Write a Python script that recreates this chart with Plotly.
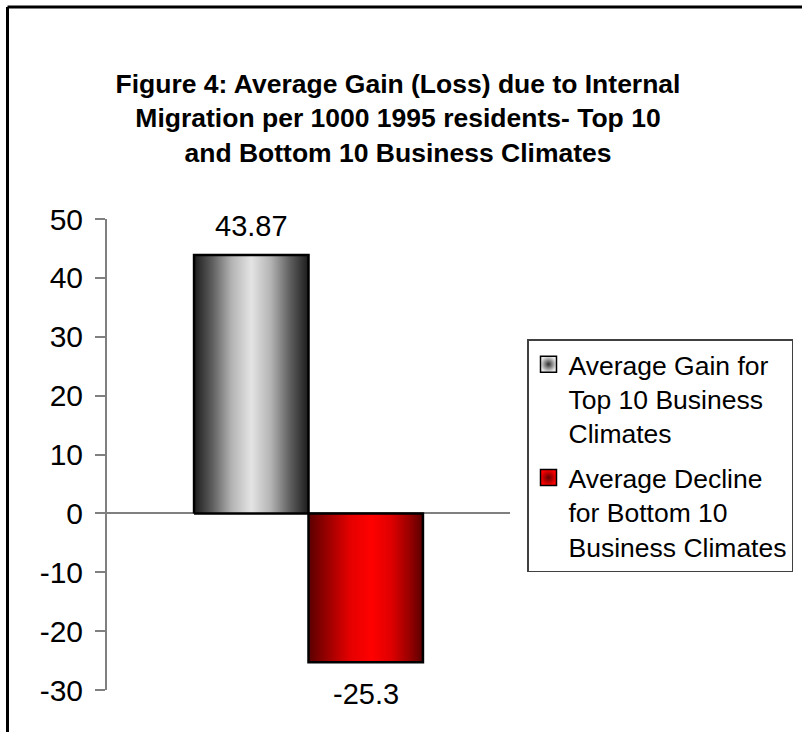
import plotly.graph_objects as go

# Series shown in the chart
series_names = [
    "Average Gain for<br>Top 10 Business<br>Climates",
    "Average Decline<br>for Bottom 10<br>Business Climates",
]
series_values = [43.87, -25.3]
value_labels = ["43.87", "-25.3"]

y_ticks = [-30, -20, -10, 0, 10, 20, 30, 40, 50]
y_tick_text = ["-30", "-20", "-10", "0", "10", "20", "30", "40", "50"]

title_text = ("<b>Figure 4: Average Gain (Loss) due to Internal<br>"
              "Migration per 1000 1995 residents- Top 10<br>"
              "and Bottom 10 Business Climates</b>")

# Cylinder-like horizontal shading for each bar
gradients = [
    [[0.0, "#1c1c1c"], [0.16, "#5e5e5e"], [0.33, "#b4b4b4"], [0.5, "#e4e4e4"],
     [0.67, "#b4b4b4"], [0.84, "#5e5e5e"], [1.0, "#1c1c1c"]],
    [[0.0, "#5a0000"], [0.18, "#a00000"], [0.36, "#e40000"], [0.55, "#ff0000"],
     [0.72, "#e00000"], [0.88, "#9a0000"], [1.0, "#5a0000"]],
]
# Legend swatch shading: centre colour -> edge colour
swatch_colors = [("#e8e8e8", "#303030"), ("#ff0000", "#600000")]

W, H = 802, 732
ML, MR, MT, MB = 107, 292, 219, 42
FONT = "Liberation Sans, Arial, sans-serif"

bar_gap = 0.432
bar_w = (1 - bar_gap) / len(series_values)
group_left = -(1 - bar_gap) / 2

fig = go.Figure()
for i, (name, val) in enumerate(zip(series_names, series_values)):
    x0 = group_left + i * bar_w
    x1 = x0 + bar_w
    fig.add_trace(go.Scatter(
        x=[x0, x1, x1, x0, x0],
        y=[0, 0, val, val, 0],
        mode="lines",
        fill="toself",
        fillgradient=dict(type="horizontal", colorscale=gradients[i]),
        line=dict(color="black", width=2.5),
        name=name,
        showlegend=False,
        hoverinfo="skip",
    ))
    # legend entry with a small shaded square swatch
    fig.add_trace(go.Scatter(
        x=[None], y=[None], mode="markers", name=name,
        legendgroup=f"g{i}",
        marker=dict(symbol="square", size=16, color=swatch_colors[i][0],
                    gradient=dict(type="radial", color=swatch_colors[i][1]),
                    line=dict(color="black", width=1.5)),
    ))
    fig.add_annotation(
        x=(x0 + x1) / 2, y=val, text=value_labels[i], showarrow=False,
        yshift=29 if val >= 0 else -32,
        font=dict(family=FONT, size=29, color="black"),
    )


def px_x(p):
    return (p - ML) / (W - ML - MR)


def px_y(p):
    return 1 - (p - MT) / (H - MT - MB)


# Frame lines along the left and top edges
fig.add_shape(type="line", xref="paper", yref="paper",
              x0=px_x(7.5), x1=px_x(W + 5), y0=px_y(7), y1=px_y(7),
              line=dict(color="black", width=3))
fig.add_shape(type="line", xref="paper", yref="paper",
              x0=px_x(7.5), x1=px_x(7.5), y0=px_y(7), y1=px_y(H + 5),
              line=dict(color="black", width=3))

fig.update_layout(
    width=W, height=H,
    margin=dict(l=ML, r=MR, t=MT, b=MB),
    paper_bgcolor="white", plot_bgcolor="white",
    font=dict(family=FONT, color="black"),
    title=dict(text=title_text, x=398 / W, xanchor="center",
               y=1 - 93 / H, yanchor="middle", xref="container", yref="container",
               font=dict(family=FONT, size=26.5, color="black")),
    xaxis=dict(range=[-0.5, 0.5], visible=False, fixedrange=True),
    yaxis=dict(range=[-30, 50], tickvals=y_ticks, ticktext=y_tick_text,
               ticks="outside", ticklen=10,
               tickwidth=2, tickcolor="#808080", showline=True, linecolor="#808080",
               linewidth=2, showgrid=False, zeroline=True, zerolinecolor="#808080",
               zerolinewidth=2, tickfont=dict(family=FONT, size=30, color="black"),
               ticklabelstandoff=6),
    legend=dict(x=527 / W, xanchor="left", y=1 - 339 / H, yanchor="top",
                xref="container", yref="container", valign="top",
                bordercolor="#404040", borderwidth=1.5, bgcolor="white",
                font=dict(family=FONT, size=26.5, color="black"),
                tracegroupgap=7),
    showlegend=True,
)

fig.write_html("out.html")
